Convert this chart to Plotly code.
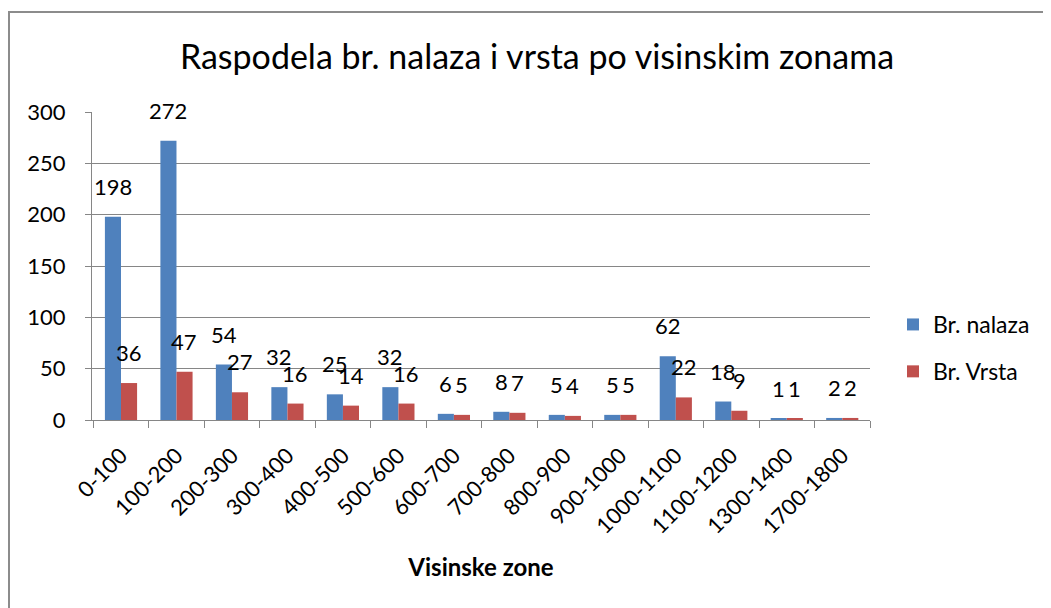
import plotly.graph_objects as go

categories = ["0-100", "100-200", "200-300", "300-400", "400-500", "500-600",
              "600-700", "700-800", "800-900", "900-1000", "1000-1100",
              "1100-1200", "1300-1400", "1700-1800"]
br_nalaza = [198, 272, 54, 32, 25, 32, 6, 8, 5, 5, 62, 18, 1, 2]
br_vrsta = [36, 47, 27, 16, 14, 16, 5, 7, 4, 5, 22, 9, 1, 2]

FONT = "Lato"
BLUE = "#4F81BD"
RED = "#C0504D"
GREY = "#868686"

fig = go.Figure()
fig.add_trace(go.Bar(x=categories, y=br_nalaza, name="Br. nalaza",
                     marker=dict(color=BLUE, line=dict(width=0)),
                     legendgroup="a"))
fig.add_trace(go.Bar(x=categories, y=br_vrsta, name="Br. Vrsta",
                     marker=dict(color=RED, line=dict(width=0)),
                     legendgroup="b"))

annotations = []
for vals, shift in ((br_nalaza, -8), (br_vrsta, 8)):
    for c, v in zip(categories, vals):
        annotations.append(dict(x=c, y=v, xref="x", yref="y", text=str(v),
                                showarrow=False, xshift=shift, yshift=15,
                                yanchor="bottom",
                                font=dict(family=FONT, size=22, color="black")))

# the page adds an 8px body margin, so the figure is 8px smaller
W, H = 1043, 600
L, R, T, B = 84, 181, 104, 188
pw, ph = W - L - R, H - T - B


def px(x):
    return (x - L) / pw


def py(y):
    return (H - B - y) / ph


shapes = [
    dict(type="line", xref="paper", yref="paper", x0=px(0), x1=px(1060),
         y0=py(4), y1=py(4), line=dict(color="#8C8C8C", width=2)),
    dict(type="line", xref="paper", yref="paper", x0=px(1), x1=px(1),
         y0=py(4), y1=py(620), line=dict(color="#8C8C8C", width=2)),
]

fig.update_layout(
    width=W, height=H,
    margin=dict(l=L, r=R, t=T, b=B),
    paper_bgcolor="white", plot_bgcolor="white",
    barmode="group", bargap=0.42, bargroupgap=0,
    font=dict(family=FONT, color="black"),
    title=dict(text="Raspodela br. nalaza i vrsta po visinskim zonama",
               x=529 / W, xanchor="center", y=1 - 49 / H, yanchor="middle",
               font=dict(family=FONT, size=34, color="black")),
    xaxis=dict(
        type="category", tickangle=-45, ticks="outside", tickson="boundaries",
        ticklen=7, tickcolor=GREY, showline=True, linecolor=GREY,
        linewidth=1, showgrid=False, ticklabelstandoff=13,
        tickfont=dict(family=FONT, size=22, color="black"),
        title=dict(text="<b>Visinske zone</b>",
                   font=dict(family=FONT, size=24, color="black"),
                   standoff=21),
    ),
    yaxis=dict(
        range=[0, 300], dtick=50, ticks="outside", ticklen=6,
        tickcolor=GREY, showline=True, linecolor=GREY, linewidth=1,
        showgrid=True, gridcolor=GREY, gridwidth=1, zeroline=False,
        ticklabelstandoff=15,
        tickfont=dict(family=FONT, size=22, color="black"),
    ),
    legend=dict(x=px(885), xanchor="left", y=py(295), yanchor="top",
                font=dict(family=FONT, size=23, color="black"),
                traceorder="grouped", tracegroupgap=14,
                itemwidth=30, bgcolor="rgba(0,0,0,0)"),
    annotations=annotations,
    shapes=shapes,
    showlegend=True,
)

fig.write_html("out.html")
